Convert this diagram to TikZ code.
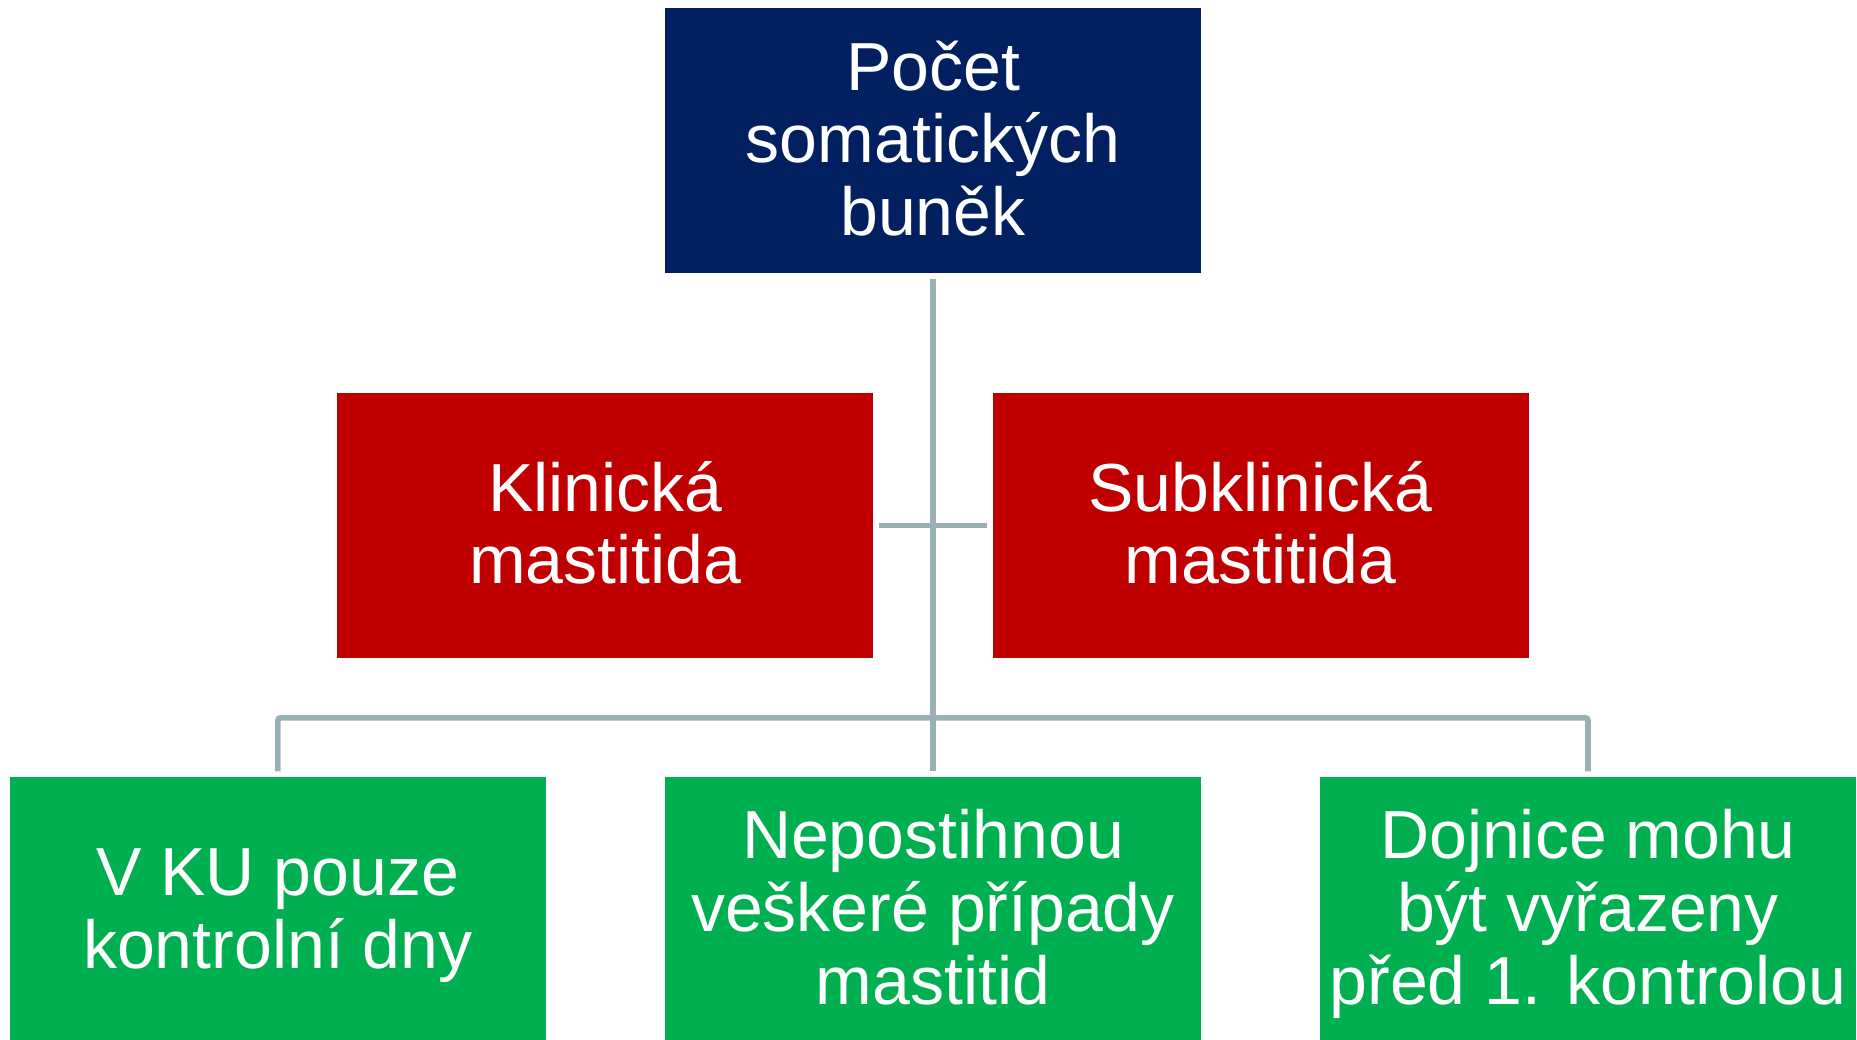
\documentclass[tikz,border=0pt]{standalone}
\usepackage{fontspec}
\setmainfont{Liberation Sans}
\definecolor{navy}{RGB}{2,32,96}
\definecolor{dred}{RGB}{192,0,0}
\definecolor{dgreen}{RGB}{0,176,80}
\definecolor{conncol}{RGB}{152,176,182}
\newcommand\lstr{\rule[-14pt]{0pt}{72pt}}
\begin{document}
\begin{tikzpicture}[x=1pt,y=-1pt,
  box/.style={rectangle, inner sep=0pt, minimum width=536pt, minimum height=265pt,
    text=white, align=center, font=\fontsize{68pt}{72pt}\selectfont},
  topbox/.style={box, fill=navy},
  redbox/.style={box, fill=dred},
  greenbox/.style={box, fill=dgreen},
  conn/.style={draw=conncol, line width=5.6pt}]
\useasboundingbox (0,0) rectangle (1857,1039);
\clip (0,0) rectangle (1857,1039);
\node[topbox] (top) at (933,140.6) {\lstr Počet\\\lstr somatických\\\lstr buněk};
\node[redbox] (r1) at (605.3,525.5) {\lstr Klinická\\\lstr mastitida};
\node[redbox] (r2) at (1260.5,525.5) {\lstr Subklinická\\\lstr mastitida};
\node[greenbox] (g1) at (277.8,909.7) {\lstr V KU pouze\\\lstr kontrolní dny};
\node[greenbox] (g2) at (933,909.7) {\lstr Nepostihnou\\\lstr veškeré případy\\\lstr mastitid};
\node[greenbox] (g3) at (1588,909.7) {\lstr Dojnice mohu\\\lstr být vyřazeny\\\lstr před 1. kontrolou};
\coordinate (bus) at (933,717.7);
\draw[conn] ([yshift=-6pt]top.south) -- ([yshift=5.6pt]g2.north);
\draw[conn] ([xshift=5.4pt]r1.east |- 0,525.3) -- ([xshift=-5.4pt]r2.west |- 0,525.3);
\draw[conn, rounded corners=3pt] ([yshift=5.6pt]g1.north) |- (bus) -| ([yshift=5.6pt]g3.north);
\end{tikzpicture}
\end{document}
